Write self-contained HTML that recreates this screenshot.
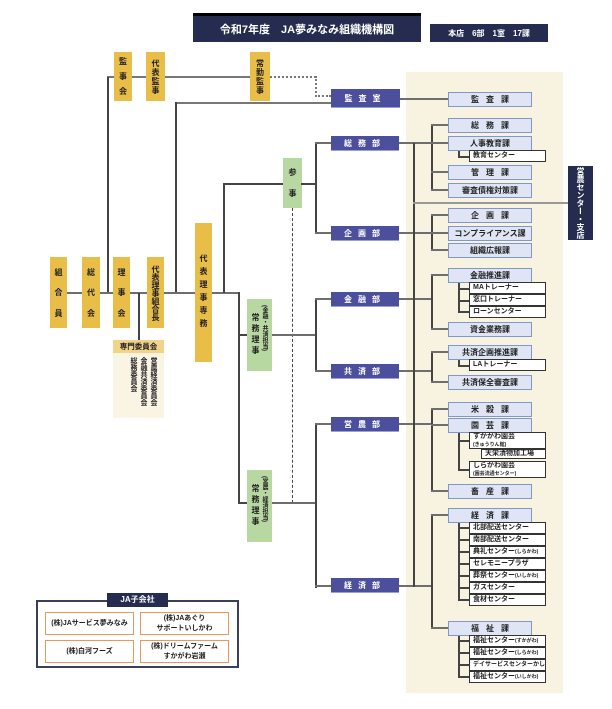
<!DOCTYPE html>
<html><head><meta charset="utf-8"><style>
*{margin:0;padding:0;box-sizing:border-box}
body{width:612px;height:709px;background:#fff;position:relative;overflow:hidden;font-family:"Liberation Sans","Noto Sans CJK JP",sans-serif;font-weight:bold;color:#222}
div{position:absolute}
.h{height:2px;background:#6e6e6e}
.v{width:1.5px;background:#444}
.hl{height:1.5px;background:#444}
.y{background:#e8bd48;display:flex;flex-direction:column;align-items:center;justify-content:space-evenly;font-size:8px;color:#222}
.g{background:#b8d8a2;font-size:8px}
.d{background:#4b4f9c;color:#fff;font-size:8px;display:flex;align-items:center;justify-content:center;letter-spacing:6px;border-bottom:1px solid #9aa0d8}
.s{background:#dfe5f4;border:1.5px solid #7f97cb;font-size:8px;display:flex;align-items:center;justify-content:center;left:448px;width:84px;height:15px}
.sp{letter-spacing:7px;padding-left:7px}
.b{background:#fff;border:1px solid #333;font-size:7px;left:469px;width:77px;height:12px;line-height:10px;padding-left:3px;white-space:nowrap;overflow:hidden}
.vt{writing-mode:vertical-rl;font-size:8px}
.o{border:1.5px solid #e39a5a;background:#fff;font-size:7px;display:flex;align-items:center;justify-content:center;text-align:center;line-height:10px}
</style></head><body>
<!-- title -->
<div style="left:193px;top:13px;width:228px;height:29px;background:#252c4f;border-top:3px solid #000;color:#fff;font-size:11px;display:flex;align-items:center;justify-content:center">令和7年度　JA夢みなみ組織機構図</div>
<div style="left:430px;top:24px;width:118px;height:18px;background:#252c4f;color:#fff;font-size:8px;display:flex;align-items:center;justify-content:center">本店　6部　1室　17課</div>

<!-- beige panel -->
<div style="left:406px;top:72px;width:157px;height:621px;background:#f8f2e1"></div>

<!-- top lines -->
<div class="hl" style="left:107px;top:76px;width:143px;background:#777;height:2px"></div>
<div style="left:270px;top:76px;width:46px;border-top:2px dotted #777"></div>
<div style="left:315px;top:76px;height:21px;border-left:2px dotted #777"></div>
<div style="left:315px;top:95px;width:16px;border-top:2px dotted #777"></div>
<div class="v" style="left:107px;top:77px;height:216px"></div>
<div class="hl" style="left:175px;top:102px;width:156px;background:#777"></div>
<div class="v" style="left:175px;top:102px;height:191px"></div>
<div class="h" style="left:400px;top:98px;width:49px"></div>

<!-- yellow top -->
<div class="y" style="left:114px;top:52px;width:18px;height:49px"><span>監</span><span>事</span><span>会</span></div>
<div class="y" style="left:146px;top:52px;width:19px;height:49px;justify-content:center"><span class="vt" style="letter-spacing:1px">代表監事</span></div>
<div class="y" style="left:250px;top:52px;width:20px;height:49px;justify-content:center"><span class="vt" style="letter-spacing:1px">常勤監事</span></div>

<!-- main row -->
<div class="h" style="left:50px;top:292px;width:188px"></div>
<div class="y" style="left:50px;top:257px;width:17px;height:71px"><span>組</span><span>合</span><span>員</span></div>
<div class="y" style="left:82px;top:257px;width:18px;height:71px"><span>総</span><span>代</span><span>会</span></div>
<div class="y" style="left:113px;top:257px;width:17px;height:71px"><span>理</span><span>事</span><span>会</span></div>
<div class="y" style="left:147px;top:257px;width:17px;height:71px;justify-content:center"><span class="vt" style="letter-spacing:0px">代表理事組合長</span></div>
<div class="y" style="left:195px;top:223px;width:17px;height:139px;justify-content:center"><span class="vt" style="letter-spacing:5px">代表理事専務</span></div>

<!-- 専門委員会 -->
<div class="v" style="left:138px;top:293px;height:47px"></div>
<div style="left:113px;top:340px;width:51px;height:13px;background:#f2d38a;font-size:7.5px;text-align:center;line-height:13px">専門委員会</div>
<div style="left:113px;top:353px;width:51px;height:65px;background:#faf4e4"></div>
<div class="vt" style="left:120px;top:357px;font-size:7px;line-height:10px;width:38px;height:60px">営農経済委員会<br>金融共済委員会<br>総務委員会</div>

<!-- 参事 route -->
<div class="v" style="left:223px;top:183px;height:110px"></div>
<div class="hl" style="left:223px;top:183px;width:60px"></div>
<div class="g" style="left:283px;top:158px;width:19px;height:50px;display:flex;flex-direction:column;align-items:center;justify-content:space-evenly"><span>参</span><span>事</span></div>
<div class="hl" style="left:301px;top:183px;width:15px"></div>
<div class="v" style="left:315px;top:143px;height:91px"></div>
<div style="left:292px;top:208px;height:295px;border-left:1px dashed #444"></div>

<!-- 常務 1 -->
<div class="v" style="left:238px;top:292px;height:212px"></div>
<div class="hl" style="left:238px;top:334px;width:9px"></div>
<div class="g" style="left:247px;top:299px;width:25px;height:72px"><span class="vt" style="position:absolute;left:3px;top:14px;letter-spacing:3px">常務理事</span><span class="vt" style="position:absolute;left:13px;top:6px;font-size:6px">(金融・共済担当)</span></div>
<div class="h" style="left:272px;top:334px;width:43px"></div>
<div class="v" style="left:315px;top:299px;height:73px"></div>
<!-- 常務 2 -->
<div class="hl" style="left:238px;top:502px;width:9px"></div>
<div class="g" style="left:247px;top:470px;width:25px;height:72px"><span class="vt" style="position:absolute;left:3px;top:14px;letter-spacing:3px">常務理事</span><span class="vt" style="position:absolute;left:13px;top:6px;font-size:6px">(営農・経済担当)</span></div>
<div class="h" style="left:272px;top:502px;width:43px"></div>
<div class="v" style="left:315px;top:424px;height:164px"></div>

<!-- dept stubs -->
<div class="h" style="left:315px;top:142px;width:16px"></div>
<div class="h" style="left:315px;top:232px;width:16px"></div>
<div class="h" style="left:315px;top:298px;width:16px"></div>
<div class="h" style="left:315px;top:370px;width:16px"></div>
<div class="h" style="left:315px;top:423px;width:16px"></div>
<div class="h" style="left:315px;top:585px;width:16px"></div>

<!-- depts -->
<div class="d" style="left:331px;top:89px;width:69px;height:19px">監査室</div>
<div class="d" style="left:331px;top:136px;width:68px;height:15px">総務部</div>
<div class="d" style="left:331px;top:226px;width:68px;height:15px">企画部</div>
<div class="d" style="left:331px;top:292px;width:68px;height:15px">金融部</div>
<div class="d" style="left:331px;top:364px;width:68px;height:15px">共済部</div>
<div class="d" style="left:331px;top:417px;width:68px;height:15px">営農部</div>
<div class="d" style="left:331px;top:578px;width:68px;height:15px">経済部</div>

<!-- dept to branch -->
<div class="h" style="left:399px;top:142px;width:33px"></div>
<div class="h" style="left:399px;top:232px;width:33px"></div>
<div class="h" style="left:399px;top:298px;width:33px"></div>
<div class="h" style="left:399px;top:370px;width:33px"></div>
<div class="h" style="left:399px;top:423px;width:33px"></div>
<div class="h" style="left:399px;top:585px;width:33px"></div>
<div class="v" style="left:413px;top:143px;height:444px"></div>
<div class="hl" style="left:413px;top:202px;width:155px;background:#999"></div>
<div style="left:568px;top:166px;width:25px;height:74px;background:#252c4f;color:#fff;font-size:8px;display:flex;align-items:center;justify-content:center"><span class="vt">営農センター・支店</span></div>

<!-- branches -->
<div class="v" style="left:431px;top:125px;height:66px"></div>
<div class="v" style="left:431px;top:215px;height:36px"></div>
<div class="v" style="left:431px;top:275px;height:55px"></div>
<div class="v" style="left:431px;top:352px;height:31px"></div>
<div class="v" style="left:431px;top:409px;height:83px"></div>
<div class="v" style="left:431px;top:515px;height:114px"></div>
<!-- branch stubs -->
<div class="h" style="left:431px;top:124px;width:17px"></div>
<div class="h" style="left:431px;top:142px;width:17px"></div>
<div class="h" style="left:431px;top:171px;width:17px"></div>
<div class="h" style="left:431px;top:189px;width:17px"></div>
<div class="h" style="left:431px;top:214px;width:17px"></div>
<div class="h" style="left:431px;top:232px;width:17px"></div>
<div class="h" style="left:431px;top:249px;width:17px"></div>
<div class="h" style="left:431px;top:274px;width:17px"></div>
<div class="h" style="left:431px;top:328px;width:17px"></div>
<div class="h" style="left:431px;top:351px;width:17px"></div>
<div class="h" style="left:431px;top:381px;width:17px"></div>
<div class="h" style="left:431px;top:408px;width:17px"></div>
<div class="h" style="left:431px;top:424px;width:17px"></div>
<div class="h" style="left:431px;top:490px;width:17px"></div>
<div class="h" style="left:431px;top:514px;width:17px"></div>
<div class="h" style="left:431px;top:627px;width:17px"></div>

<!-- sections -->
<div class="s sp" style="top:92px">監査課</div>
<div class="s sp" style="top:118px">総務課</div>
<div class="s" style="top:136px">人事教育課</div>
<div class="s sp" style="top:165px">管理課</div>
<div class="s" style="top:183px">審査債権対策課</div>
<div class="s sp" style="top:208px">企画課</div>
<div class="s" style="top:226px">コンプライアンス課</div>
<div class="s" style="top:243px">組織広報課</div>
<div class="s" style="top:268px">金融推進課</div>
<div class="s" style="top:322px">資金業務課</div>
<div class="s" style="top:345px">共済企画推進課</div>
<div class="s" style="top:375px">共済保全審査課</div>
<div class="s sp" style="top:402px">米穀課</div>
<div class="s sp" style="top:418px">園芸課</div>
<div class="s sp" style="top:484px">畜産課</div>
<div class="s sp" style="top:508px">経済課</div>
<div class="s sp" style="top:621px">福祉課</div>

<!-- sub connectors -->
<div class="v" style="left:458px;top:151px;height:6px"></div><div class="hl" style="left:458px;top:156px;width:11px"></div>
<div class="v" style="left:458px;top:283px;height:29px"></div>
<div class="hl" style="left:458px;top:288px;width:11px"></div><div class="hl" style="left:458px;top:300px;width:11px"></div><div class="hl" style="left:458px;top:311px;width:11px"></div>
<div class="v" style="left:458px;top:360px;height:6px"></div><div class="hl" style="left:458px;top:365px;width:11px"></div>
<div class="v" style="left:458px;top:433px;height:37px"></div><div class="hl" style="left:458px;top:440px;width:11px"></div><div class="hl" style="left:458px;top:469px;width:11px"></div>
<div class="v" style="left:458px;top:523px;height:78px"></div>
<div class="v" style="left:458px;top:636px;height:42px"></div>

<!-- sub boxes -->
<div class="b" style="top:150px">教育センター</div>
<div class="b" style="top:282px">MAトレーナー</div>
<div class="b" style="top:294px">窓口トレーナー</div>
<div class="b" style="top:306px">ローンセンター</div>
<div class="b" style="top:359px">LAトレーナー</div>
<div class="b" style="top:432px;height:17px;line-height:8px">すかがわ園芸<br><span style="font-size:5px">(きゅうりん館)</span></div>
<div class="b" style="top:449px;left:481px;width:65px;height:10px;line-height:8px">天栄漬物加工場</div>
<div class="b" style="top:461px;height:17px;line-height:8px">しらかわ園芸<br><span style="font-size:5px">(園芸流通センター)</span></div>

<div class="b" style="top:522px">北部配送センター</div>
<div class="b" style="top:534px">南部配送センター</div>
<div class="b" style="top:546px">典礼センター<span style="font-size:5px">(しらかわ)</span></div>
<div class="b" style="top:558px">セレモニープラザ</div>
<div class="b" style="top:570px">葬祭センター<span style="font-size:5px">(いしかわ)</span></div>
<div class="b" style="top:582px">ガスセンター</div>
<div class="b" style="top:594px">食材センター</div>
<div class="b" style="top:635px">福祉センター<span style="font-size:5px">(すかがわ)</span></div>
<div class="b" style="top:647px">福祉センター<span style="font-size:5px">(しらかわ)</span></div>
<div class="b" style="top:659px;font-size:6px">デイサービスセンターかしま</div>
<div class="b" style="top:671px">福祉センター<span style="font-size:5px">(いしかわ)</span></div>
<!-- sub stubs for 経済/福祉 -->
<div class="hl" style="left:458px;top:527px;width:11px"></div><div class="hl" style="left:458px;top:539px;width:11px"></div><div class="hl" style="left:458px;top:551px;width:11px"></div><div class="hl" style="left:458px;top:563px;width:11px"></div><div class="hl" style="left:458px;top:575px;width:11px"></div><div class="hl" style="left:458px;top:587px;width:11px"></div><div class="hl" style="left:458px;top:599px;width:11px"></div>
<div class="hl" style="left:458px;top:640px;width:11px"></div><div class="hl" style="left:458px;top:652px;width:11px"></div><div class="hl" style="left:458px;top:664px;width:11px"></div><div class="hl" style="left:458px;top:676px;width:11px"></div>

<!-- JA子会社 -->
<div style="left:36px;top:600px;width:203px;height:68px;border:2px solid #3a3f5c"></div>
<div style="left:107px;top:593px;width:61px;height:14px;background:#252c4f;color:#fff;font-size:8px;text-align:center;line-height:14px">JA子会社</div>
<div class="o" style="left:45px;top:612px;width:89px;height:23px">(株)JAサービス夢みなみ</div>
<div class="o" style="left:140px;top:612px;width:89px;height:23px">(株)JAあぐり<br>サポートいしかわ</div>
<div class="o" style="left:45px;top:640px;width:89px;height:23px">(株)白河フーズ</div>
<div class="o" style="left:140px;top:640px;width:89px;height:23px">(株)ドリームファーム<br>すかがわ岩瀬</div>
</body></html>
